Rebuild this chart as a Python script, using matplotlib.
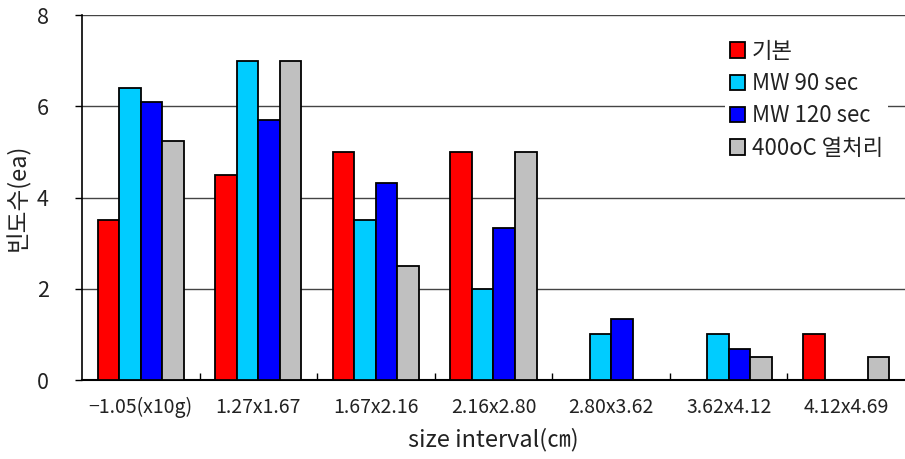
import matplotlib
matplotlib.use("Agg")
import matplotlib.pyplot as plt
import numpy as np

plt.rcParams['font.family'] = ['Noto Sans CJK KR', 'DejaVu Sans']

categories = ["\u22121.05(x10g)", "1.27x1.67", "1.67x2.16", "2.16x2.80",
              "2.80x3.62", "3.62x4.12", "4.12x4.69"]
series_names = ["기본", "MW 90 sec", "MW 120 sec", "400oC 열처리"]
basic = [3.5, 4.5, 5.0, 5.0, 0, 0, 1.0]
mw90 = [6.4, 7.0, 3.5, 2.0, 1.0, 1.0, 0]
mw120 = [6.1, 5.7, 4.33, 3.33, 1.33, 0.67, 0]
heat400 = [5.25, 7.0, 2.5, 5.0, 0, 0.5, 0.5]
colors = ["#FF0000", "#00CCFF", "#0000FF", "#C0C0C0"]

fig = plt.figure(figsize=(9.05, 4.59), dpi=100)
ax = fig.add_axes([0.0906, 0.172, 0.9094, 0.795])

x = np.arange(len(categories))
bw = 0.183
for i, (vals, name, c) in enumerate(zip([basic, mw90, mw120, heat400], series_names, colors)):
    # empty classes get no bar outline
    heights = [v if v > 0 else np.nan for v in vals]
    ax.bar(x + (i - 1.5) * bw, heights, bw, color=c, edgecolor="black",
           linewidth=1.3, label=name, zorder=3)

ax.set_xlim(-0.5, len(categories) - 0.5)
ax.set_ylim(0, 8)
ax.set_yticks([0, 2, 4, 6, 8])
ax.yaxis.grid(True, color="#444444", linewidth=1.0, zorder=0)
ax.set_axisbelow(True)

# category boundaries as major ticks, labels at centers via minor ticks
ax.set_xticks(np.arange(0.5, len(categories) - 0.5, 1.0))
ax.set_xticklabels([])
ax.set_xticks(x, minor=True)
ax.set_xticklabels(categories, minor=True, fontsize=14, color="#222222")
ax.tick_params(axis="x", which="major", direction="in", length=5, width=1)
ax.tick_params(axis="x", which="minor", length=0, pad=12)
ax.tick_params(axis="y", direction="out", length=5, width=1, labelsize=15.5,
               pad=19, labelcolor="#222222")

for s in ["top", "right"]:
    ax.spines[s].set_visible(False)
ax.spines["left"].set_linewidth(1.2)
ax.spines["bottom"].set_linewidth(1.5)

ax.set_xlabel("size interval(㎝)", fontsize=17, color="#222222", labelpad=7)
ax.set_ylabel("빈도수(ea)", fontsize=17, color="#222222", labelpad=5)

leg = ax.legend(loc="upper left", bbox_to_anchor=(0.768, 0.975), frameon=True,
                fancybox=False, edgecolor="none", framealpha=1.0,
                fontsize=16, handlelength=0.7, handleheight=0.7,
                handletextpad=0.3, labelspacing=0.42, borderpad=0.2)
for t in leg.get_texts():
    t.set_color("#222222")

fig.savefig("out.png", dpi=100)
